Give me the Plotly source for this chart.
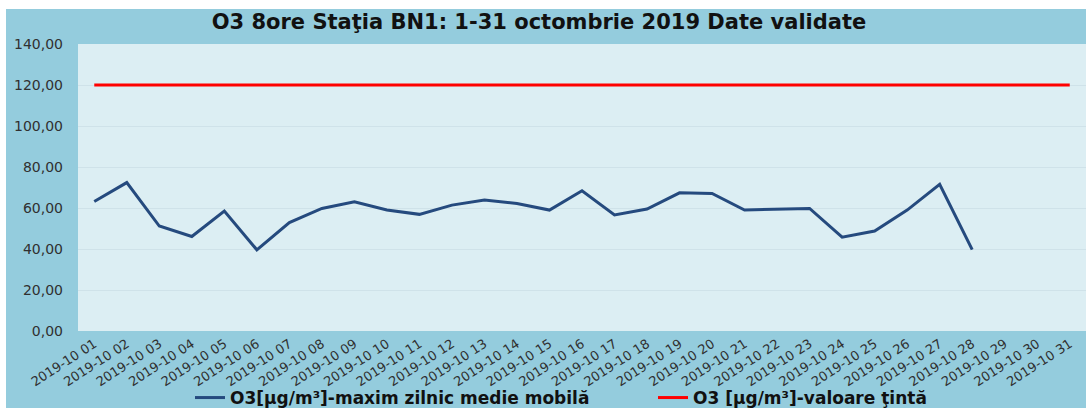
import plotly.graph_objects as go

dates = [f"2019-10 {d:02d}" for d in range(1, 32)]
o3_max_8h = [63.2, 72.4, 51.2, 46.1, 58.5, 39.6, 52.9, 59.8, 63.0, 59.0,
             56.9, 61.4, 63.9, 62.2, 59.0, 68.4, 56.6, 59.5, 67.4, 67.1,
             59.0, 59.3, 59.8, 45.8, 48.8, 59.0, 71.6, 39.7, None, None, None]
target_value = [120.0] * 31
y_ticks = [0, 20, 40, 60, 80, 100, 120, 140]

W, H = 1086, 408
ml, mr, mt, mb = 78, 0, 44, 77
pw = W - ml - mr
ph = H - mt - mb

def px_x(p):
    return (p - ml) / pw

def px_y(p):
    return (H - mb - p) / ph

idx = list(range(len(dates)))

fig = go.Figure()
fig.add_trace(go.Scatter(
    x=idx, y=o3_max_8h, mode="lines",
    name="O3[µg/m³]-maxim zilnic medie mobilă",
    line=dict(color="#254A7E", width=3), connectgaps=False))
fig.add_trace(go.Scatter(
    x=idx, y=target_value, mode="lines",
    name="O3 [µg/m³]-valoare ţintă",
    line=dict(color="#FF0000", width=3)))

fig.update_layout(
    width=W, height=H,
    margin=dict(l=ml, r=mr, t=mt, b=mb, autoexpand=False),
    paper_bgcolor="white",
    plot_bgcolor="rgba(0,0,0,0)",
    separators=", ",
    title=dict(text="<b>O3 8ore Staţia BN1: 1-31 octombrie 2019 Date validate</b>",
               x=539 / W, xref="container", xanchor="center",
               y=1 - 22 / H, yref="container", yanchor="middle",
               font=dict(family="DejaVu Sans", size=21, color="#111111")),
    showlegend=True,
    legend=dict(orientation="h", x=190 / W, xanchor="left", xref="container",
                y=1 - 398 / H, yanchor="middle", yref="container",
                font=dict(family="DejaVu Sans", size=17, color="#111111", weight="bold"),
                bgcolor="rgba(0,0,0,0)", itemwidth=30, entrywidth=418,
                tracegroupgap=0),
    shapes=[
        dict(type="rect", xref="paper", yref="paper", layer="below",
             x0=px_x(6), x1=1.0, y0=px_y(H), y1=px_y(9),
             fillcolor="#94CCDD", line=dict(width=0)),
        dict(type="rect", xref="paper", yref="paper", layer="below",
             x0=0, x1=1, y0=0, y1=1,
             fillcolor="#DCEEF3", line=dict(width=0)),
    ],
)

fig.update_xaxes(
    range=[-0.5, 30.5], tickmode="array", tickvals=idx, ticktext=dates,
    tickangle=-33, showgrid=False, showline=False, zeroline=False,
    ticks="", ticklabelstandoff=2, automargin=False,
    tickfont=dict(family="DejaVu Sans", size=13, color="#303030"))
fig.update_yaxes(
    range=[0, 140], tickmode="array", tickvals=y_ticks,
    tickformat=".2f", showgrid=True, gridcolor="#CFE2E9", gridwidth=1,
    zeroline=False, showline=False, ticks="", ticklabelstandoff=14,
    automargin=False,
    tickfont=dict(family="DejaVu Sans", size=14, color="#303030"))

fig.write_html(
    "out.html",
    config={"displayModeBar": False},
    post_script="document.body.style.margin='0';document.body.style.overflow='hidden';")
